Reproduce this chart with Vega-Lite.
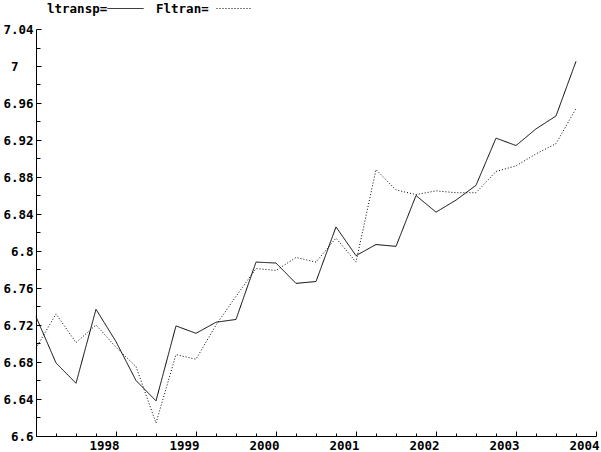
{
  "$schema": "https://vega.github.io/schema/vega-lite/v6.json",
  "width": 560,
  "height": 407,
  "autosize": "none",
  "padding": {"left": 36, "top": 29, "right": 5, "bottom": 16},
  "background": "white",
  "config": {
    "view": {"stroke": null},
    "axis": {
      "labelFont": "DejaVu Sans Mono",
      "labelFontWeight": "bold",
      "labelFontSize": 12.5,
      "labelColor": "black",
      "domainColor": "black",
      "tickColor": "black",
      "grid": false,
      "title": null
    },
    "legend": {
      "labelFont": "DejaVu Sans Mono",
      "labelFontWeight": "bold",
      "labelFontSize": 12.5,
      "labelColor": "black"
    }
  },
  "data": {
    "values": [
      {"t": 1997.00, "series": "ltransp", "v": 6.729},
      {"t": 1997.25, "series": "ltransp", "v": 6.679},
      {"t": 1997.50, "series": "ltransp", "v": 6.657},
      {"t": 1997.75, "series": "ltransp", "v": 6.737},
      {"t": 1998.00, "series": "ltransp", "v": 6.702},
      {"t": 1998.25, "series": "ltransp", "v": 6.660},
      {"t": 1998.50, "series": "ltransp", "v": 6.638},
      {"t": 1998.75, "series": "ltransp", "v": 6.719},
      {"t": 1999.00, "series": "ltransp", "v": 6.711},
      {"t": 1999.25, "series": "ltransp", "v": 6.723},
      {"t": 1999.50, "series": "ltransp", "v": 6.726},
      {"t": 1999.75, "series": "ltransp", "v": 6.788},
      {"t": 2000.00, "series": "ltransp", "v": 6.787},
      {"t": 2000.25, "series": "ltransp", "v": 6.765},
      {"t": 2000.50, "series": "ltransp", "v": 6.767},
      {"t": 2000.75, "series": "ltransp", "v": 6.826},
      {"t": 2001.00, "series": "ltransp", "v": 6.795},
      {"t": 2001.25, "series": "ltransp", "v": 6.807},
      {"t": 2001.50, "series": "ltransp", "v": 6.805},
      {"t": 2001.75, "series": "ltransp", "v": 6.860},
      {"t": 2002.00, "series": "ltransp", "v": 6.842},
      {"t": 2002.25, "series": "ltransp", "v": 6.855},
      {"t": 2002.50, "series": "ltransp", "v": 6.871},
      {"t": 2002.75, "series": "ltransp", "v": 6.922},
      {"t": 2003.00, "series": "ltransp", "v": 6.914},
      {"t": 2003.25, "series": "ltransp", "v": 6.932},
      {"t": 2003.50, "series": "ltransp", "v": 6.946},
      {"t": 2003.75, "series": "ltransp", "v": 7.005},
      {"t": 1997.00, "series": "Fltran", "v": 6.695},
      {"t": 1997.25, "series": "Fltran", "v": 6.732},
      {"t": 1997.50, "series": "Fltran", "v": 6.701},
      {"t": 1997.75, "series": "Fltran", "v": 6.720},
      {"t": 1998.00, "series": "Fltran", "v": 6.696},
      {"t": 1998.25, "series": "Fltran", "v": 6.675},
      {"t": 1998.50, "series": "Fltran", "v": 6.614},
      {"t": 1998.75, "series": "Fltran", "v": 6.688},
      {"t": 1999.00, "series": "Fltran", "v": 6.683},
      {"t": 1999.25, "series": "Fltran", "v": 6.720},
      {"t": 1999.50, "series": "Fltran", "v": 6.751},
      {"t": 1999.75, "series": "Fltran", "v": 6.781},
      {"t": 2000.00, "series": "Fltran", "v": 6.779},
      {"t": 2000.25, "series": "Fltran", "v": 6.793},
      {"t": 2000.50, "series": "Fltran", "v": 6.788},
      {"t": 2000.75, "series": "Fltran", "v": 6.814},
      {"t": 2001.00, "series": "Fltran", "v": 6.788},
      {"t": 2001.25, "series": "Fltran", "v": 6.888},
      {"t": 2001.50, "series": "Fltran", "v": 6.866},
      {"t": 2001.75, "series": "Fltran", "v": 6.861},
      {"t": 2002.00, "series": "Fltran", "v": 6.865},
      {"t": 2002.25, "series": "Fltran", "v": 6.863},
      {"t": 2002.50, "series": "Fltran", "v": 6.863},
      {"t": 2002.75, "series": "Fltran", "v": 6.886},
      {"t": 2003.00, "series": "Fltran", "v": 6.892},
      {"t": 2003.25, "series": "Fltran", "v": 6.905},
      {"t": 2003.50, "series": "Fltran", "v": 6.916},
      {"t": 2003.75, "series": "Fltran", "v": 6.954}
    ]
  },
  "mark": {"type": "line", "color": "black", "strokeWidth": 1},
  "encoding": {
    "x": {
      "field": "t",
      "type": "quantitative",
      "scale": {"domain": [1997, 2004], "nice": false, "zero": false},
      "axis": {
        "values": [1997, 1997.25, 1997.5, 1997.75, 1998, 1998.25, 1998.5, 1998.75, 1999, 1999.25, 1999.5, 1999.75, 2000, 2000.25, 2000.5, 2000.75, 2001, 2001.25, 2001.5, 2001.75, 2002, 2002.25, 2002.5, 2002.75, 2003, 2003.25, 2003.5, 2003.75, 2004],
        "labelExpr": "(datum.value % 1 == 0 && datum.value > 1997) ? format(datum.value, 'd') : ''",
        "labelAlign": "right",
        "labelOffset": 3,
        "labelPadding": 8,
        "labelBaseline": "top",
        "tickSize": {"condition": {"test": "datum.value % 1 == 0", "value": -5}, "value": -3},
        "labelFlush": false,
        "labelOverlap": false
      }
    },
    "y": {
      "field": "v",
      "type": "quantitative",
      "scale": {"domain": [6.6, 7.04], "nice": false, "zero": false},
      "axis": {
        "values": [6.6, 6.62, 6.64, 6.66, 6.68, 6.7, 6.72, 6.74, 6.76, 6.78, 6.8, 6.82, 6.84, 6.86, 6.88, 6.9, 6.92, 6.94, 6.96, 6.98, 7, 7.02, 7.04],
        "labelExpr": "round(datum.value*100) % 4 != 0 ? '' : format(datum.value, '.2~f')",
        "tickSize": {"condition": {"test": "round(datum.value*100) % 4 == 0", "value": -5}, "value": -4},
        "labelPadding": {"condition": {"test": "round(datum.value*100) == 700", "value": 23}, "value": 8},
        "labelFlush": false,
        "labelOverlap": false
      }
    },
    "strokeDash": {
      "field": "series",
      "type": "nominal",
      "scale": {"domain": ["ltransp", "Fltran"], "range": [[1, 0], [1, 2]]},
      "legend": {
        "title": null,
        "orient": "top",
        "direction": "horizontal",
        "symbolType": "stroke",
        "symbolSize": 1296,
        "symbolStrokeColor": "black",
        "symbolStrokeWidth": 1,
        "labelExpr": "datum.label == 'Fltran' ? '\u00a0Fltran=' : datum.label + '='",
        "labelAlign": "left",
        "labelOffset": -97,
        "symbolOffset": 60,
        "columnPadding": 10,
        "padding": 11,
        "offset": 3
      }
    }
  }
}
